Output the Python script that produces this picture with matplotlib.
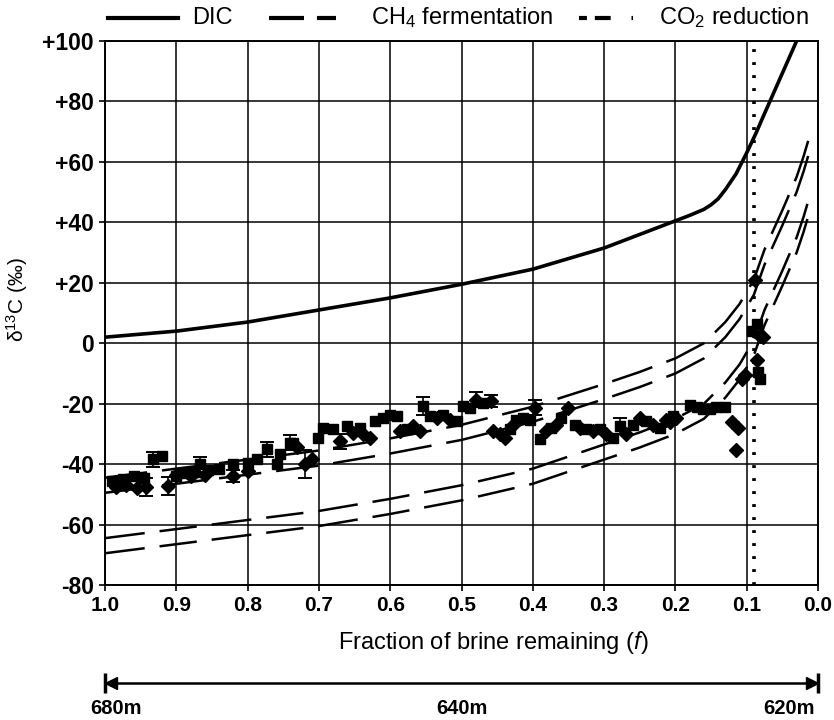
import numpy as np
import matplotlib
matplotlib.use('Agg')
import matplotlib.pyplot as plt
import matplotlib.transforms as mtransforms
from matplotlib.lines import Line2D

plt.rcParams['font.family'] = ['Liberation Sans', 'DejaVu Sans']
plt.rcParams['mathtext.fontset'] = 'custom'
plt.rcParams['mathtext.rm'] = 'Liberation Sans'
plt.rcParams['mathtext.it'] = 'Liberation Sans:italic'
plt.rcParams['mathtext.bf'] = 'Liberation Sans:bold'

# model curves (fraction of brine remaining vs d13C)
f_dic = [1.0, 0.9, 0.8, 0.7, 0.6, 0.5, 0.4, 0.3, 0.2, 0.18, 0.16, 0.15, 0.14, 0.13, 0.115, 0.1, 0.087,
         0.075, 0.06, 0.045, 0.03]
dic = [2, 4, 7, 11, 15, 19.5, 24.5, 31.5, 40.5, 42.3, 44.3, 45.8, 47.8, 50.8, 56, 63, 69.5,
       76, 84, 92, 100]

f_model = [1.0, 0.9, 0.8, 0.7, 0.6, 0.5, 0.4, 0.3, 0.25, 0.2, 0.16, 0.13, 0.11, 0.09, 0.075, 0.05, 0.03, 0.02, 0.01]
ch4_hi = [-44.5, -41.5, -38.5, -35.5, -31.5, -27, -21, -13.5, -9.5, -5, 0, 7, 13, 21, 31, 44, 55, 62, 70]
ch4_lo = [-49.5, -46.5, -43.5, -40.5, -36.5, -32, -26, -18.5, -14.5, -10, -5, 2, 8, 16, 26, 39, 50, 57, 65]
co2_hi = [-64.5, -61.5, -58.5, -55.5, -51.5, -47, -41.5, -33.5, -29.5, -25, -20, -13, -7, 1, 11, 24, 35, 42, 50]
co2_lo = [-69.5, -66.5, -63.5, -60.5, -56.5, -52, -46.5, -38.5, -34.5, -30, -25, -18, -12, -4, 6, 19, 30, 37, 45]

f_limit = 0.09

# measured samples, squares
sq_f = [0.99, 0.975, 0.96, 0.945, 0.932, 0.92, 0.9, 0.89, 0.875, 0.867, 0.855, 0.84, 0.82, 0.8, 0.787,
        0.773, 0.759, 0.755, 0.741, 0.736, 0.701, 0.694, 0.68, 0.661, 0.642, 0.621, 0.61, 0.6, 0.591,
        0.577, 0.554, 0.544, 0.526, 0.507, 0.498, 0.488, 0.47, 0.432, 0.423, 0.414, 0.404, 0.39, 0.374,
        0.36, 0.341, 0.325, 0.306, 0.288, 0.278, 0.259, 0.241, 0.222, 0.203, 0.18, 0.17, 0.161, 0.152,
        0.143, 0.131, 0.093, 0.086, 0.084, 0.082]
sq_d = [-45.5, -45, -44, -44.5, -38.4, -37.3, -44, -43, -42.5, -40, -42, -41.5, -40, -39.5, -38.4,
        -35.1, -40, -36.7, -32.9, -33, -31.2, -28, -28.5, -27.5, -28, -25.8, -24.7, -23.6, -24.2,
        -28.5, -20.9, -24.2, -23.6, -25.8, -20.9, -21.4, -19.8, -28.5, -25.3, -24.7, -25.3, -31.8, -28,
        -24.7, -26.9, -28.5, -28.5, -31.2, -27.4, -26.9, -25.8, -28, -24.2, -20.5, -21, -21.6, -21.6,
        -21, -21, 4.2, 6.3, -9.5, -11.7]
sq_err = [0, 0, 0, 0, 2.5, 0, 0, 0, 0, 2.5, 0, 0, 0, 0, 0,
          2.5, 0, 0, 2.5, 0, 0, 0, 0, 0, 0, 0, 0, 0, 0,
          0, 3, 0, 0, 0, 0, 0, 0, 0, 0, 0, 0, 0, 0,
          0, 0, 0, 0, 0, 2.5, 0, 0, 0, 0, 0, 0, 0, 0,
          0, 0, 0, 0, 0, 0]

# measured samples, diamonds
dm_f = [0.985, 0.97, 0.955, 0.942, 0.911, 0.9, 0.88, 0.86, 0.82, 0.8, 0.731, 0.72, 0.71, 0.671, 0.652,
        0.638, 0.628, 0.586, 0.568, 0.558, 0.535, 0.516, 0.479, 0.458, 0.456, 0.446, 0.439, 0.428,
        0.397, 0.381, 0.367, 0.35, 0.334, 0.316, 0.297, 0.269, 0.25, 0.231, 0.213, 0.208, 0.199,
        0.121, 0.115, 0.112, 0.107, 0.103, 0.089, 0.086, 0.082, 0.077]
dm_d = [-47.5, -47, -48, -47.6, -47.1, -43.5, -44, -43.5, -43.8, -42.2, -34.5, -40, -38.4, -32.4, -29.6,
        -30.2, -31.2, -29, -27.4, -29, -24.7, -25.3, -18.7, -19.2, -29, -30.2, -31.2, -26.9,
        -21.4, -29, -26.9, -21.4, -28, -29, -30.2, -30.2, -24.7, -26.9, -25.3, -26, -24.9,
        -26, -35.3, -28.2, -11.7, -10.6, 21, -5.7, 2.5, 1.9]
dm_err = [0, 0, 0, 3, 3, 0, 0, 0, 2, 0, 0, 4.6, 0, 2.5, 0,
          0, 0, 0, 0, 0, 0, 0, 2.5, 2, 0, 0, 0, 0,
          2.5, 0, 0, 0, 0, 0, 0, 0, 0, 0, 0, 0, 0,
          0, 0, 0, 0, 0, 0, 0, 0, 0]

x_ticks = [1.0, 0.9, 0.8, 0.7, 0.6, 0.5, 0.4, 0.3, 0.2, 0.1, 0.0]
y_ticks = [-80, -60, -40, -20, 0, 20, 40, 60, 80, 100]
y_labels = ['-80', '-60', '-40', '-20', '0', '+20', '+40', '+60', '+80', '+100']

depth_labels = ['680m', '640m', '620m']
depth_f = [0.985, 0.5, 0.04]

fig = plt.figure(figsize=(8.34, 7.2), dpi=100)
ax = fig.add_axes([105 / 834, 1 - 585 / 720, 713 / 834, 544 / 720])

ax.set_xlim(1.0, 0.0)
ax.set_ylim(-80, 100)
ax.grid(True, color='black', lw=1.1)
ax.set_axisbelow(True)

ax.plot(f_dic, dic, color='black', lw=2.6, solid_capstyle='round')
ch4_style = (0, (17, 6))
co2_style = (0, (16, 6, 15, 6))
for vals, ls in [(ch4_hi, ch4_style), (ch4_lo, ch4_style), (co2_hi, co2_style), (co2_lo, co2_style)]:
    ax.plot(f_model, vals, color='black', lw=1.8, linestyle=ls)

ax.axvline(f_limit, color='black', lw=2.6, linestyle=(0, (0.8, 2.8)))

sq_f, sq_d, sq_err = np.array(sq_f), np.array(sq_d), np.array(sq_err)
dm_f, dm_d, dm_err = np.array(dm_f), np.array(dm_d), np.array(dm_err)
m = sq_err > 0
ax.errorbar(sq_f[m], sq_d[m], yerr=sq_err[m], fmt='none', ecolor='black', elinewidth=1.2, capsize=5, capthick=1.4)
m = dm_err > 0
ax.errorbar(dm_f[m], dm_d[m], yerr=dm_err[m], fmt='none', ecolor='black', elinewidth=1.2, capsize=5, capthick=1.4)
ax.plot(sq_f, sq_d, 's', color='black', ms=7.5, zorder=5)
ax.plot(dm_f, dm_d, 'D', color='black', ms=7, zorder=5)

ax.set_xticks(x_ticks)
ax.set_xticklabels(['%.1f' % v for v in x_ticks])
ax.set_yticks(y_ticks)
ax.set_yticklabels(y_labels)
ax.tick_params(direction='out', length=4, width=1.2, labelsize=15, pad=4)
ax.tick_params(axis='y', labelsize=16.5)
for lab in ax.get_xticklabels() + ax.get_yticklabels():
    lab.set_fontweight('bold')
for sp in ax.spines.values():
    sp.set_linewidth(1.4)

ax.set_ylabel('δ$^{13}$C (‰)', fontsize=15)
ax.yaxis.set_label_coords(-0.105, 0.524)
ax.set_xlabel('Fraction of brine remaining ($f$)', fontsize=17)
ax.xaxis.set_label_coords(0.544, -0.08)

# depth scale under the f axis
tr = mtransforms.blended_transform_factory(ax.transData, fig.transFigure)
yd = 1 - 683 / 720
ax.plot([1.0, 0.0], [yd, yd], color='black', lw=1.8, transform=tr, clip_on=False)
ax.plot([1.0, 0.0], [yd, yd], '|', color='black', ms=14, mew=2.5, transform=tr, clip_on=False)
ax.plot([0.992], [yd], '<', color='black', ms=8, transform=tr, clip_on=False)
ax.plot([0.008], [yd], '>', color='black', ms=8, transform=tr, clip_on=False)
for lab, fx in zip(depth_labels, depth_f):
    ax.text(fx, 1 - 708 / 720, lab, transform=tr, ha='center', va='center', fontsize=14.5, fontweight='bold')

# legend row above the plot
yl = 1 - 18 / 720
fig.add_artist(Line2D([108 / 834, 178 / 834], [yl, yl], color='black', lw=3))
fig.text(192 / 834, yl, 'DIC', fontsize=17, va='center')
fig.add_artist(Line2D([269 / 834, 336 / 834], [yl, yl], color='black', lw=3, linestyle=(0, (8.4, 3.1, 4.6, 10))))
fig.text(371 / 834, yl, 'CH$_4$ fermentation', fontsize=17, va='center')
fig.add_artist(Line2D([579 / 834, 633 / 834], [yl, yl], color='black', lw=3, linestyle=(0, (1.9, 1.9, 3.8, 5, 0.5, 10))))
fig.text(659 / 834, yl, 'CO$_2$ reduction', fontsize=17, va='center')

fig.savefig('out.png', dpi=100)
